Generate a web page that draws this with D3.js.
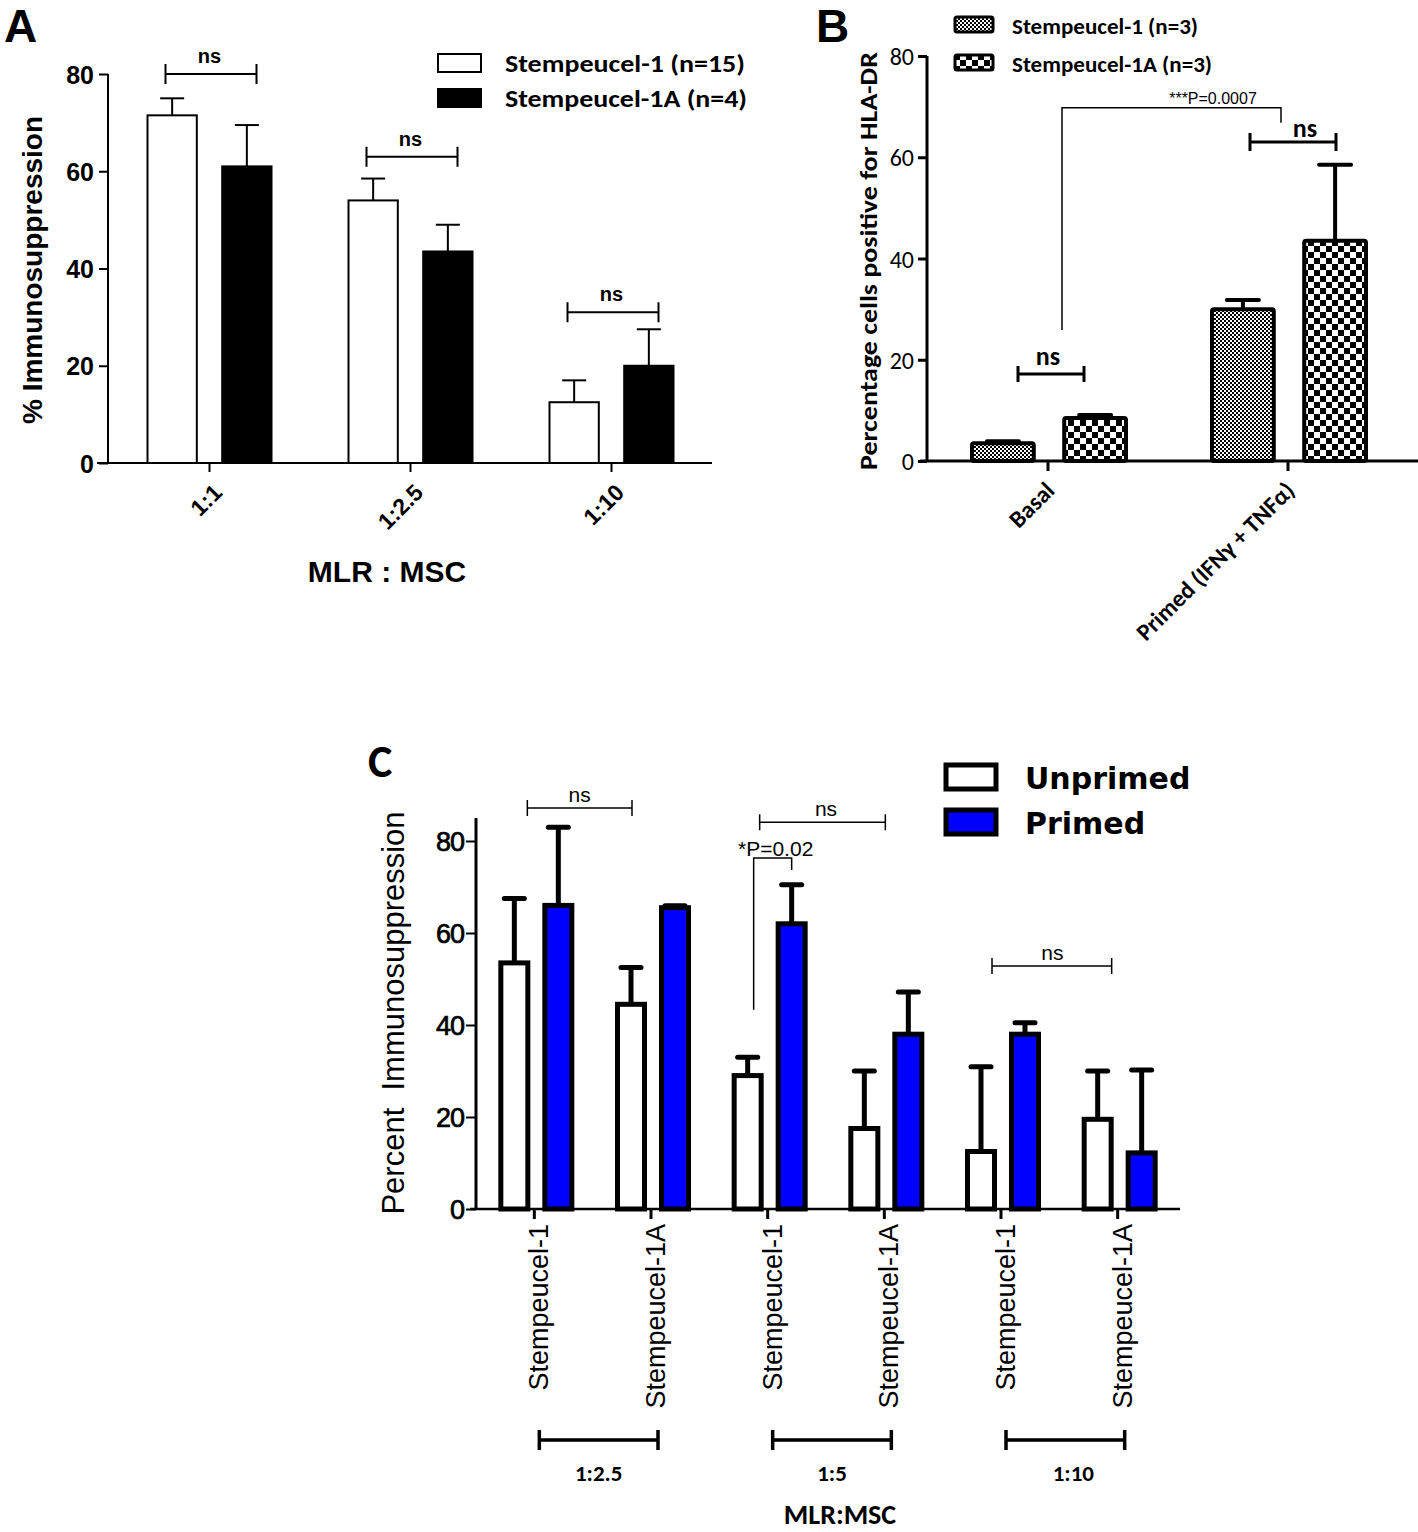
<!DOCTYPE html>
<html><head><meta charset="utf-8">
<script src="https://cdn.jsdelivr.net/npm/d3@7"></script>
<style>
html,body{margin:0;padding:0;background:#fff;}
svg{display:block;}
</style></head>
<body>
<svg id="fig" width="1418" height="1532"></svg>
<script>
// ---------- Panel A data ----------
const aCategories = ["1:1", "1:2.5", "1:10"];
const aSeries = ["Stempeucel-1 (n=15)", "Stempeucel-1A (n=4)"];
const aMeanS1 = [71.5, 54, 12.5];
const aSemS1 = [3.5, 4.5, 4.5];
const aMeanS1A = [61, 43.5, 20];
const aSemS1A = [8.5, 5.5, 7.5];
const aTicks = [0, 20, 40, 60, 80];
const aSig = [ {cat: 0, y: 80, label: "ns"}, {cat: 1, y: 63, label: "ns"}, {cat: 2, y: 31, label: "ns"} ];

// ---------- Panel B data ----------
const bCategories = ["Basal", "Primed (IFNγ + TNFα)"];
const bSeries = ["Stempeucel-1 (n=3)", "Stempeucel-1A (n=3)"];
const bMeanS1 = [3.5, 30];
const bSemS1 = [0.4, 1.8];
const bMeanS1A = [8.5, 43.5];
const bSemS1A = [0.6, 15];
const bTicks = [0, 20, 40, 60, 80];

// ---------- Panel C data ----------
const cCategories = ["Stempeucel-1", "Stempeucel-1A", "Stempeucel-1 ", "Stempeucel-1A ", "Stempeucel-1  ", "Stempeucel-1A  "];
const cRatios = ["1:2.5", "1:5", "1:10"];
const cSeries = ["Unprimed", "Primed"];
const cUnprimed = [53.5, 44.5, 29, 17.5, 12.5, 19.5];
const cUnprimedSem = [14, 8, 4, 12.5, 18.4, 10.5];
const cPrimed = [66, 65.5, 62, 38, 38, 12.2];
const cPrimedSem = [17, 0.4, 8.5, 9.2, 2.5, 18];
const cTicks = [0, 20, 40, 60, 80];

const svg = d3.select("#fig");
const ARIAL = "'Liberation Sans', Arial, sans-serif";
const CAL = "Carlito, Lato, 'Open Sans', sans-serif";
const VERD = "'DejaVu Sans', Verdana, sans-serif";

// patterns
const defs = svg.append("defs");
const pf = defs.append("pattern").attr("id","fine").attr("patternUnits","userSpaceOnUse").attr("width",4).attr("height",4);
pf.append("rect").attr("width",4).attr("height",4).attr("fill","#fff");
pf.append("rect").attr("width",2).attr("height",2).attr("fill","#000");
pf.append("rect").attr("x",2).attr("y",2).attr("width",2).attr("height",2).attr("fill","#000");
const pc = defs.append("pattern").attr("id","coarse").attr("patternUnits","userSpaceOnUse").attr("width",12).attr("height",12);
pc.append("rect").attr("width",12).attr("height",12).attr("fill","#fff");
pc.append("rect").attr("width",6).attr("height",6).attr("fill","#000");
pc.append("rect").attr("x",6).attr("y",6).attr("width",6).attr("height",6).attr("fill","#000");

function bracket(g, x1, x2, y, h, sw) {
  g.append("path").attr("d", `M${x1},${y-h}V${y+h}M${x1},${y}H${x2}M${x2},${y-h}V${y+h}`)
    .attr("fill","none").attr("stroke","#000").attr("stroke-width", sw);
}

// ================= PANEL A =================
(function(){
  const g = svg.append("g");
  const x = d3.scaleBand().domain(aCategories).range([109, 712]).padding(0);
  const xi = d3.scaleBand().domain(aSeries).range([-62, 62]).paddingInner(0.34);
  const y = d3.scaleLinear().domain([0, 80]).range([463, 74]);
  const fills = ["#fff", "#000"];
  const means = [aMeanS1, aMeanS1A], sems = [aSemS1, aSemS1A];

  g.append("text").attr("x", 4).attr("y", 42).text("A")
    .attr("font-family", ARIAL).attr("font-weight","bold").attr("font-size", 46);

  // bars
  aSeries.forEach((s, si) => {
    aCategories.forEach((c, ci) => {
      const cx = x(c) + x.bandwidth()/2;
      const x0 = cx + xi(s), w = xi.bandwidth();
      const yt = y(means[si][ci]), ye = y(means[si][ci] + sems[si][ci]);
      g.append("line").attr("x1", x0 + w/2).attr("x2", x0 + w/2).attr("y1", yt).attr("y2", ye)
        .attr("stroke","#000").attr("stroke-width",2);
      g.append("line").attr("x1", x0 + w/2 - 12).attr("x2", x0 + w/2 + 12).attr("y1", ye).attr("y2", ye)
        .attr("stroke","#000").attr("stroke-width",2);
      g.append("rect").attr("x", x0).attr("y", yt).attr("width", w).attr("height", y(0) - yt)
        .attr("fill", fills[si]).attr("stroke","#000").attr("stroke-width",2);
    });
  });

  // axes
  const ya = g.append("g").attr("transform","translate(108,0)")
    .call(d3.axisLeft(y).tickValues(aTicks).tickSize(9).tickPadding(5).tickFormat(d3.format("d")));
  ya.select(".domain").attr("stroke-width",2).attr("d","M0,74V463");
  ya.selectAll(".tick line").attr("stroke-width",2);
  ya.selectAll("text").attr("font-family",ARIAL).attr("font-weight","bold").attr("font-size",25).attr("dy","0.36em");

  const xa = g.append("g").attr("transform","translate(0,463)")
    .call(d3.axisBottom(x).tickSize(9).tickFormat(""));
  xa.select(".domain").attr("d","M97,0H712").attr("stroke-width",2);
  xa.selectAll(".tick line").attr("stroke-width",2);
  aCategories.forEach(c => {
    const cx = x(c) + x.bandwidth()/2;
    g.append("text").attr("transform", `translate(${cx+14},${494}) rotate(-45)`)
      .attr("text-anchor","end").attr("font-family",ARIAL).attr("font-weight","bold").attr("font-size",23)
      .text(c);
  });

  g.append("text").attr("transform","translate(42,270) rotate(-90)").attr("text-anchor","middle")
    .attr("font-family",ARIAL).attr("font-weight","bold").attr("font-size",28).text("% Immunosuppression");
  g.append("text").attr("x", 387).attr("y", 582).attr("text-anchor","middle")
    .attr("font-family",ARIAL).attr("font-weight","bold").attr("font-size",30).text("MLR : MSC");

  // significance
  aSig.forEach(s => {
    const cx = x(aCategories[s.cat]) + x.bandwidth()/2;
    bracket(g, cx - 44, cx + 47, y(s.y), 10, 2);
    g.append("text").attr("x", cx).attr("y", y(s.y) - 11).attr("text-anchor","middle")
      .attr("font-family",ARIAL).attr("font-weight","bold").attr("font-size",20).text(s.label);
  });

  // legend
  aSeries.forEach((s, i) => {
    const ly = 54 + i * 35;
    g.append("rect").attr("x", 438).attr("y", ly).attr("width", 43).attr("height", 18)
      .attr("fill", fills[i]).attr("stroke","#000").attr("stroke-width",2);
    g.append("text").attr("x", 505).attr("y", ly + 18).attr("font-family",CAL).attr("font-weight","bold")
      .attr("font-size",25).attr("textLength", i === 0 ? 240 : 242).attr("lengthAdjust","spacingAndGlyphs").text(s);
  });
})();

// ================= PANEL B =================
(function(){
  const g = svg.append("g");
  const x = d3.scaleBand().domain(bCategories).range([928, 1408]).padding(0);
  const xi = d3.scaleBand().domain(bSeries).range([-76, 78]).paddingInner(0.33);
  const y = d3.scaleLinear().domain([0, 80]).range([461, 56]);
  const fills = ["url(#fine)", "url(#coarse)"];
  const means = [bMeanS1, bMeanS1A], sems = [bSemS1, bSemS1A];

  g.append("text").attr("x", 816).attr("y", 42).text("B")
    .attr("font-family", ARIAL).attr("font-weight","bold").attr("font-size", 46);

  bSeries.forEach((s, si) => {
    bCategories.forEach((c, ci) => {
      const cx = x(c) + x.bandwidth()/2;
      const x0 = cx + xi(s), w = xi.bandwidth();
      const yt = y(means[si][ci]), ye = y(means[si][ci] + sems[si][ci]);
      g.append("line").attr("x1", x0 + w/2).attr("x2", x0 + w/2).attr("y1", yt).attr("y2", ye)
        .attr("stroke","#000").attr("stroke-width",4);
      g.append("line").attr("x1", x0 + w/2 - 16).attr("x2", x0 + w/2 + 16).attr("y1", ye).attr("y2", ye)
        .attr("stroke","#000").attr("stroke-width",4).attr("stroke-linecap","round");
      g.append("rect").attr("x", x0).attr("y", yt).attr("width", w).attr("height", y(0) - yt)
        .attr("fill", fills[si]).attr("stroke","#000").attr("stroke-width",4).attr("rx",2);
    });
  });

  const ya = g.append("g").attr("transform","translate(927,0)")
    .call(d3.axisLeft(y).tickValues(bTicks).tickSize(9).tickPadding(4).tickFormat(d3.format("d")));
  ya.select(".domain").attr("stroke-width",3).attr("d","M0,56V461");
  ya.selectAll(".tick line").attr("stroke-width",3);
  ya.selectAll("text").attr("font-family",CAL).attr("font-size",24).attr("dy","0.36em");

  const xa = g.append("g").attr("transform","translate(0,461)")
    .call(d3.axisBottom(x).tickSize(10).tickFormat(""));
  xa.select(".domain").attr("d","M920,0H1418").attr("stroke-width",3);
  xa.selectAll(".tick line").attr("stroke-width",3);
  bCategories.forEach(c => {
    const cx = x(c) + x.bandwidth()/2;
    g.append("text").attr("transform", `translate(${cx+8},${492}) rotate(-45)`)
      .attr("text-anchor","end").attr("font-family",CAL).attr("font-weight","bold").attr("font-size",24)
      .text(c);
  });

  g.append("text").attr("transform","translate(877,261) rotate(-90)").attr("text-anchor","middle")
    .attr("font-family",CAL).attr("font-weight","bold").attr("font-size",25)
    .attr("textLength",418).attr("lengthAdjust","spacingAndGlyphs").text("Percentage cells positive for HLA-DR");

  // significance
  const c0 = x(bCategories[0]) + x.bandwidth()/2, c1 = x(bCategories[1]) + x.bandwidth()/2;
  bracket(g, c0 - 30, c0 + 36, y(17.2), 8, 3);
  g.append("text").attr("x", c0).attr("y", y(17.2) - 9).attr("text-anchor","middle")
    .attr("font-family",CAL).attr("font-size",26).attr("font-weight","bold").text("ns");
  bracket(g, c1 - 38, c1 + 48, y(63), 9, 3);
  g.append("text").attr("x", c1 + 17).attr("y", y(63) - 5).attr("text-anchor","middle")
    .attr("font-family",CAL).attr("font-size",26).attr("font-weight","bold").text("ns");
  g.append("path").attr("d", `M${c0+14},${y(25.9)}V${y(69.8)}H${c1-7}V${y(66.8)}`)
    .attr("fill","none").attr("stroke","#000").attr("stroke-width",1.5);
  g.append("text").attr("x", c1 - 75).attr("y", y(69.8) - 4).attr("text-anchor","middle")
    .attr("font-family","'Liberation Sans Narrow', "+ARIAL).attr("font-size",16).text("***P=0.0007");

  // legend
  bSeries.forEach((s, i) => {
    const ly = 17 + i * 38;
    g.append("rect").attr("x", 955).attr("y", ly).attr("width", 38).attr("height", 15)
      .attr("fill", fills[i]).attr("stroke","#000").attr("stroke-width",3).attr("rx",2);
    g.append("text").attr("x", 1012).attr("y", ly + 17).attr("font-family",CAL).attr("font-weight","600")
      .attr("font-size",22).attr("textLength", i === 0 ? 186 : 200).attr("lengthAdjust","spacingAndGlyphs").text(s);
  });
})();

// ================= PANEL C =================
(function(){
  const g = svg.append("g");
  const x = d3.scaleBand().domain(cCategories).range([476, 1176]).padding(0);
  const xi = d3.scaleBand().domain(cSeries).range([-33.5, 37.5]).paddingInner(0.386);
  const y = d3.scaleLinear().domain([0, 85]).range([1209, 818]);
  const fills = ["#fff", "#0000ff"];
  const means = [cUnprimed, cPrimed], sems = [cUnprimedSem, cPrimedSem];
  const cx = i => x(cCategories[i]) + x.bandwidth()/2;

  g.append("text").attr("x", 368).attr("y", 777).text("C")
    .attr("font-family", CAL).attr("font-weight","bold").attr("font-size", 46);

  cSeries.forEach((s, si) => {
    cCategories.forEach((c, ci) => {
      const x0 = cx(ci) + xi(s), w = xi.bandwidth();
      const yt = y(means[si][ci]), ye = y(means[si][ci] + sems[si][ci]);
      g.append("line").attr("x1", x0 + w/2).attr("x2", x0 + w/2).attr("y1", yt).attr("y2", ye)
        .attr("stroke","#000").attr("stroke-width",5);
      g.append("line").attr("x1", x0 + w/2 - 10).attr("x2", x0 + w/2 + 10).attr("y1", ye).attr("y2", ye)
        .attr("stroke","#000").attr("stroke-width",5).attr("stroke-linecap","round");
      g.append("rect").attr("x", x0).attr("y", yt).attr("width", w).attr("height", y(0) - yt)
        .attr("fill", fills[si]).attr("stroke","#000").attr("stroke-width",5);
    });
  });

  const ya = g.append("g").attr("transform","translate(476,0)")
    .call(d3.axisLeft(y).tickValues(cTicks).tickSize(10).tickPadding(2).tickFormat(d3.format("d")));
  ya.select(".domain").attr("stroke-width",3).attr("d","M0,818V1209");
  ya.selectAll(".tick line").attr("stroke-width",2);
  ya.selectAll("text").attr("font-family",ARIAL).attr("font-size",27).attr("letter-spacing",-1)
    .attr("stroke","#000").attr("stroke-width",0.7).attr("dy","0.36em");

  const xa = g.append("g").attr("transform","translate(0,1209)")
    .call(d3.axisBottom(x).tickSize(10).tickFormat(""));
  xa.select(".domain").attr("d","M470,0H1180").attr("stroke-width",2.5);
  xa.selectAll(".tick line").attr("stroke-width",3);
  cCategories.forEach((c, i) => {
    g.append("text").attr("transform", `translate(${cx(i)+14},${1224}) rotate(-90)`)
      .attr("text-anchor","end").attr("font-family",ARIAL).attr("font-size",27)
      .text(c.trim());
  });

  g.append("text").attr("transform","translate(404,1013) rotate(-90)").attr("text-anchor","middle")
    .attr("font-family",ARIAL).attr("font-size",31).attr("xml:space","preserve").style("white-space","pre")
    .text("Percent  Immunosuppression");

  // significance
  bracket(g, cx(0) - 7, cx(1) - 19, y(87.2), 8, 1.5);
  g.append("text").attr("x", (cx(0) + cx(1)) / 2 - 13).attr("y", y(87.2) - 6).attr("text-anchor","middle")
    .attr("font-family",ARIAL).attr("font-size",21).text("ns");
  bracket(g, cx(2) - 8, cx(3) + 1, y(84.1), 8, 1.5);
  g.append("text").attr("x", (cx(2) + cx(3)) / 2).attr("y", y(84.1) - 6).attr("text-anchor","middle")
    .attr("font-family",ARIAL).attr("font-size",21).text("ns");
  bracket(g, cx(4) - 9, cx(5) - 6, y(52.8), 8, 1.5);
  g.append("text").attr("x", (cx(4) + cx(5)) / 2 - 7).attr("y", y(52.8) - 6).attr("text-anchor","middle")
    .attr("font-family",ARIAL).attr("font-size",21).text("ns");
  g.append("path").attr("d", `M${cx(2)-14},${y(43.3)}V${y(76.3)}H${cx(2)+24}V${y(73.7)}`)
    .attr("fill","none").attr("stroke","#000").attr("stroke-width",1.5);
  g.append("text").attr("x", cx(2) + 8).attr("y", y(76.3) - 2).attr("text-anchor","middle")
    .attr("font-family",ARIAL).attr("font-size",21).text("*P=0.02");

  // ratio group brackets
  cRatios.forEach((r, i) => {
    const xa1 = cx(2*i) + 5, xa2 = cx(2*i+1) + 7;
    bracket(g, xa1, xa2, 1440, 10, 3.5);
    g.append("text").attr("x", (xa1 + xa2) / 2 + (i === 2 ? 8 : 0)).attr("y", 1481).attr("text-anchor","middle")
      .attr("font-family",CAL).attr("font-weight","bold").attr("font-size",23).text(r);
  });
  g.append("text").attr("x", 840).attr("y", 1524).attr("text-anchor","middle")
    .attr("font-family",CAL).attr("font-weight","bold").attr("font-size",28).text("MLR:MSC");

  // legend
  cSeries.forEach((s, i) => {
    const ly = 765 + i * 45;
    g.append("rect").attr("x", 946).attr("y", ly).attr("width", 50).attr("height", 24)
      .attr("fill", fills[i]).attr("stroke","#000").attr("stroke-width",5);
    g.append("text").attr("x", 1025).attr("y", ly + 24).attr("font-family",VERD).attr("font-weight","bold")
      .attr("font-size",30).text(s);
  });
})();
</script>
</body></html>
